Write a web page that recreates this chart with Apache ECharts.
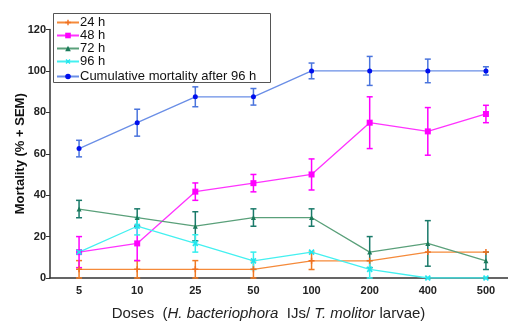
<!DOCTYPE html>
<html><head><meta charset="utf-8">
<script src="https://cdn.jsdelivr.net/npm/echarts@6/dist/echarts.min.js"></script>
<style>html,body{margin:0;padding:0;background:#fff}#c{width:508px;height:331px}</style>
</head><body><div id="c"></div>
<script>
var categories = ['5','10','25','50','100','200','400','500'];
var yTicks = [0,20,40,60,80,100,120];
var h24 = [4.2, 4.2, 4.2, 4.2, 8.3, 8.3, 12.5, 12.5];
var h24err = [4.2, 4.2, 4.2, 4.2, 4.2, 0, 0, 0];
var h48 = [12.5, 16.7, 41.7, 45.8, 50, 75, 70.8, 79.2];
var h48err = [7.5, 8.3, 4.2, 4.2, 7.5, 12.5, 11.5, 4.2];
var h72 = [33.3, 29.2, 25, 29.2, 29.2, 12.5, 16.7, 8.3];
var h72err = [4.2, 4.2, 7, 4.2, 4.2, 7.5, 11, 4.2];
var h96 = [12.5, 25, 16.7, 8.3, 12.5, 4.2, 0, 0];
var h96err = [0, 4.2, 4.2, 4.2, 0, 4.2, 0, 0];
var cum = [62.5, 75, 87.5, 87.5, 100, 100, 100, 100];
var cumErr = [4, 6.5, 4.8, 4, 3.8, 7, 5.7, 2];

var FONT = 'Liberation Sans, Arial, sans-serif';
var chart = echarts.init(document.getElementById('c'));

function errSeries(name, vals, errs, color) {
  return {
    type: 'custom', name: name + ' err', silent: true, z: 1,
    data: vals.map(function (v, i) { return [i, v, errs[i]]; }),
    encode: { x: 0, y: 1 },
    renderItem: function (params, api) {
      var x = api.value(0), m = api.value(1), e = api.value(2);
      if (!e) return null;
      var top = api.coord([x, m + e]), bot = api.coord([x, Math.max(0, m - e)]);
      var cw = 3;
      var st = { stroke: color, lineWidth: 1.5 };
      return { type: 'group', children: [
        { type: 'line', shape: { x1: top[0], y1: top[1], x2: bot[0], y2: bot[1] }, style: st },
        { type: 'line', shape: { x1: top[0]-cw, y1: top[1], x2: top[0]+cw, y2: top[1] }, style: st },
        { type: 'line', shape: { x1: bot[0]-cw, y1: bot[1], x2: bot[0]+cw, y2: bot[1] }, style: st }
      ]};
    }
  };
}
function lineSeries(name, vals, lineColor, markColor, symbol, size, rot) {
  return {
    type: 'line', name: name, data: vals, z: 3,
    symbol: symbol, symbolSize: size, symbolRotate: rot || 0, showAllSymbol: true,
    lineStyle: { color: lineColor, width: 1.3 },
    itemStyle: { color: markColor, borderWidth: 0 },
    emphasis: { disabled: true }
  };
}
var plus = 'path://M3,0H5V3H8V5H5V8H3V5H0V3H3Z';
var legendText = { fontFamily: FONT, fontSize: 13, lineHeight: 13, color: '#111', padding: [0,0,0,-4] };

chart.setOption({
  animation: false,
  backgroundColor: '#fff',
  textStyle: { fontFamily: FONT },
  grid: { left: 50, width: 465, top: 29.5, bottom: 53, containLabel: false, outerBoundsMode: 'none' },
  graphic: [{ type: 'rect', left: 53, top: 13, z: 10,
    shape: { width: 217, height: 69 },
    style: { fill: 'rgba(0,0,0,0)', stroke: '#555', lineWidth: 1 } }],
  legend: [
    { orient: 'vertical', left: 56, top: 16, itemGap: 0, itemWidth: 22, itemHeight: 7, padding: 0,
      data: ['24 h', '48 h', '72 h', '96 h'], textStyle: legendText },
    { orient: 'vertical', left: 56, top: 70, itemWidth: 22, itemHeight: 7, padding: 0,
      data: ['Cumulative mortality after 96 h'], textStyle: legendText }
  ],
  xAxis: {
    type: 'category', data: categories,
    axisLine: { lineStyle: { color: '#333', width: 1.5 } },
    axisTick: { inside: true, length: 3, lineStyle: { color: '#333' } },
    axisLabel: { fontFamily: FONT, fontSize: 11, fontWeight: 'bold', color: '#222', margin: 7 },
    name: '{n|Doses  (}{i|H. bacteriophora}{n|  IJs/ }{i|T. molitor}{n| larvae)}',
    nameLocation: 'middle', nameGap: 28, nameMoveOverlap: false,
    nameTextStyle: { padding: [0, 28, 0, 0], rich: {
      n: { fontFamily: FONT, fontSize: 15, color: '#222' },
      i: { fontFamily: FONT, fontSize: 15, color: '#222', fontStyle: 'italic' } } }
  },
  yAxis: {
    type: 'value', min: 0, max: 120, interval: 20,
    splitLine: { show: false },
    axisLine: { show: true, lineStyle: { color: '#333', width: 1.5 } },
    axisTick: { show: true, length: 4, lineStyle: { color: '#333' } },
    axisLabel: { fontFamily: FONT, fontSize: 11, fontWeight: 'bold', color: '#222', margin: 4,
      formatter: function (v) { return yTicks.indexOf(v) >= 0 ? String(v) : ''; } },
    name: 'Mortality (% + SEM)', nameLocation: 'middle', nameGap: 23, nameRotate: 90,
    nameMoveOverlap: false,
    nameTextStyle: { fontFamily: FONT, fontSize: 13, fontWeight: 'bold', color: '#111' }
  },
  series: [
    errSeries('24 h', h24, h24err, '#f07a22'),
    errSeries('48 h', h48, h48err, '#ff00ff'),
    errSeries('72 h', h72, h72err, '#1a7a6a'),
    errSeries('96 h', h96, h96err, '#33eeee'),
    errSeries('cum', cum, cumErr, '#4a74dd'),
    lineSeries('24 h', h24, '#f58a3a', '#f07020', plus, 6),
    lineSeries('48 h', h48, '#ff33ff', '#ff00ff', 'rect', 6),
    lineSeries('72 h', h72, '#5aa07a', '#1a7a5a', 'triangle', 5),
    lineSeries('96 h', h96, '#44f0f0', '#22e6ee', plus, 7, 45),
    lineSeries('Cumulative mortality after 96 h', cum, '#6a8ee6', '#0010ee', 'circle', 5)
  ]
});
</script></body></html>
